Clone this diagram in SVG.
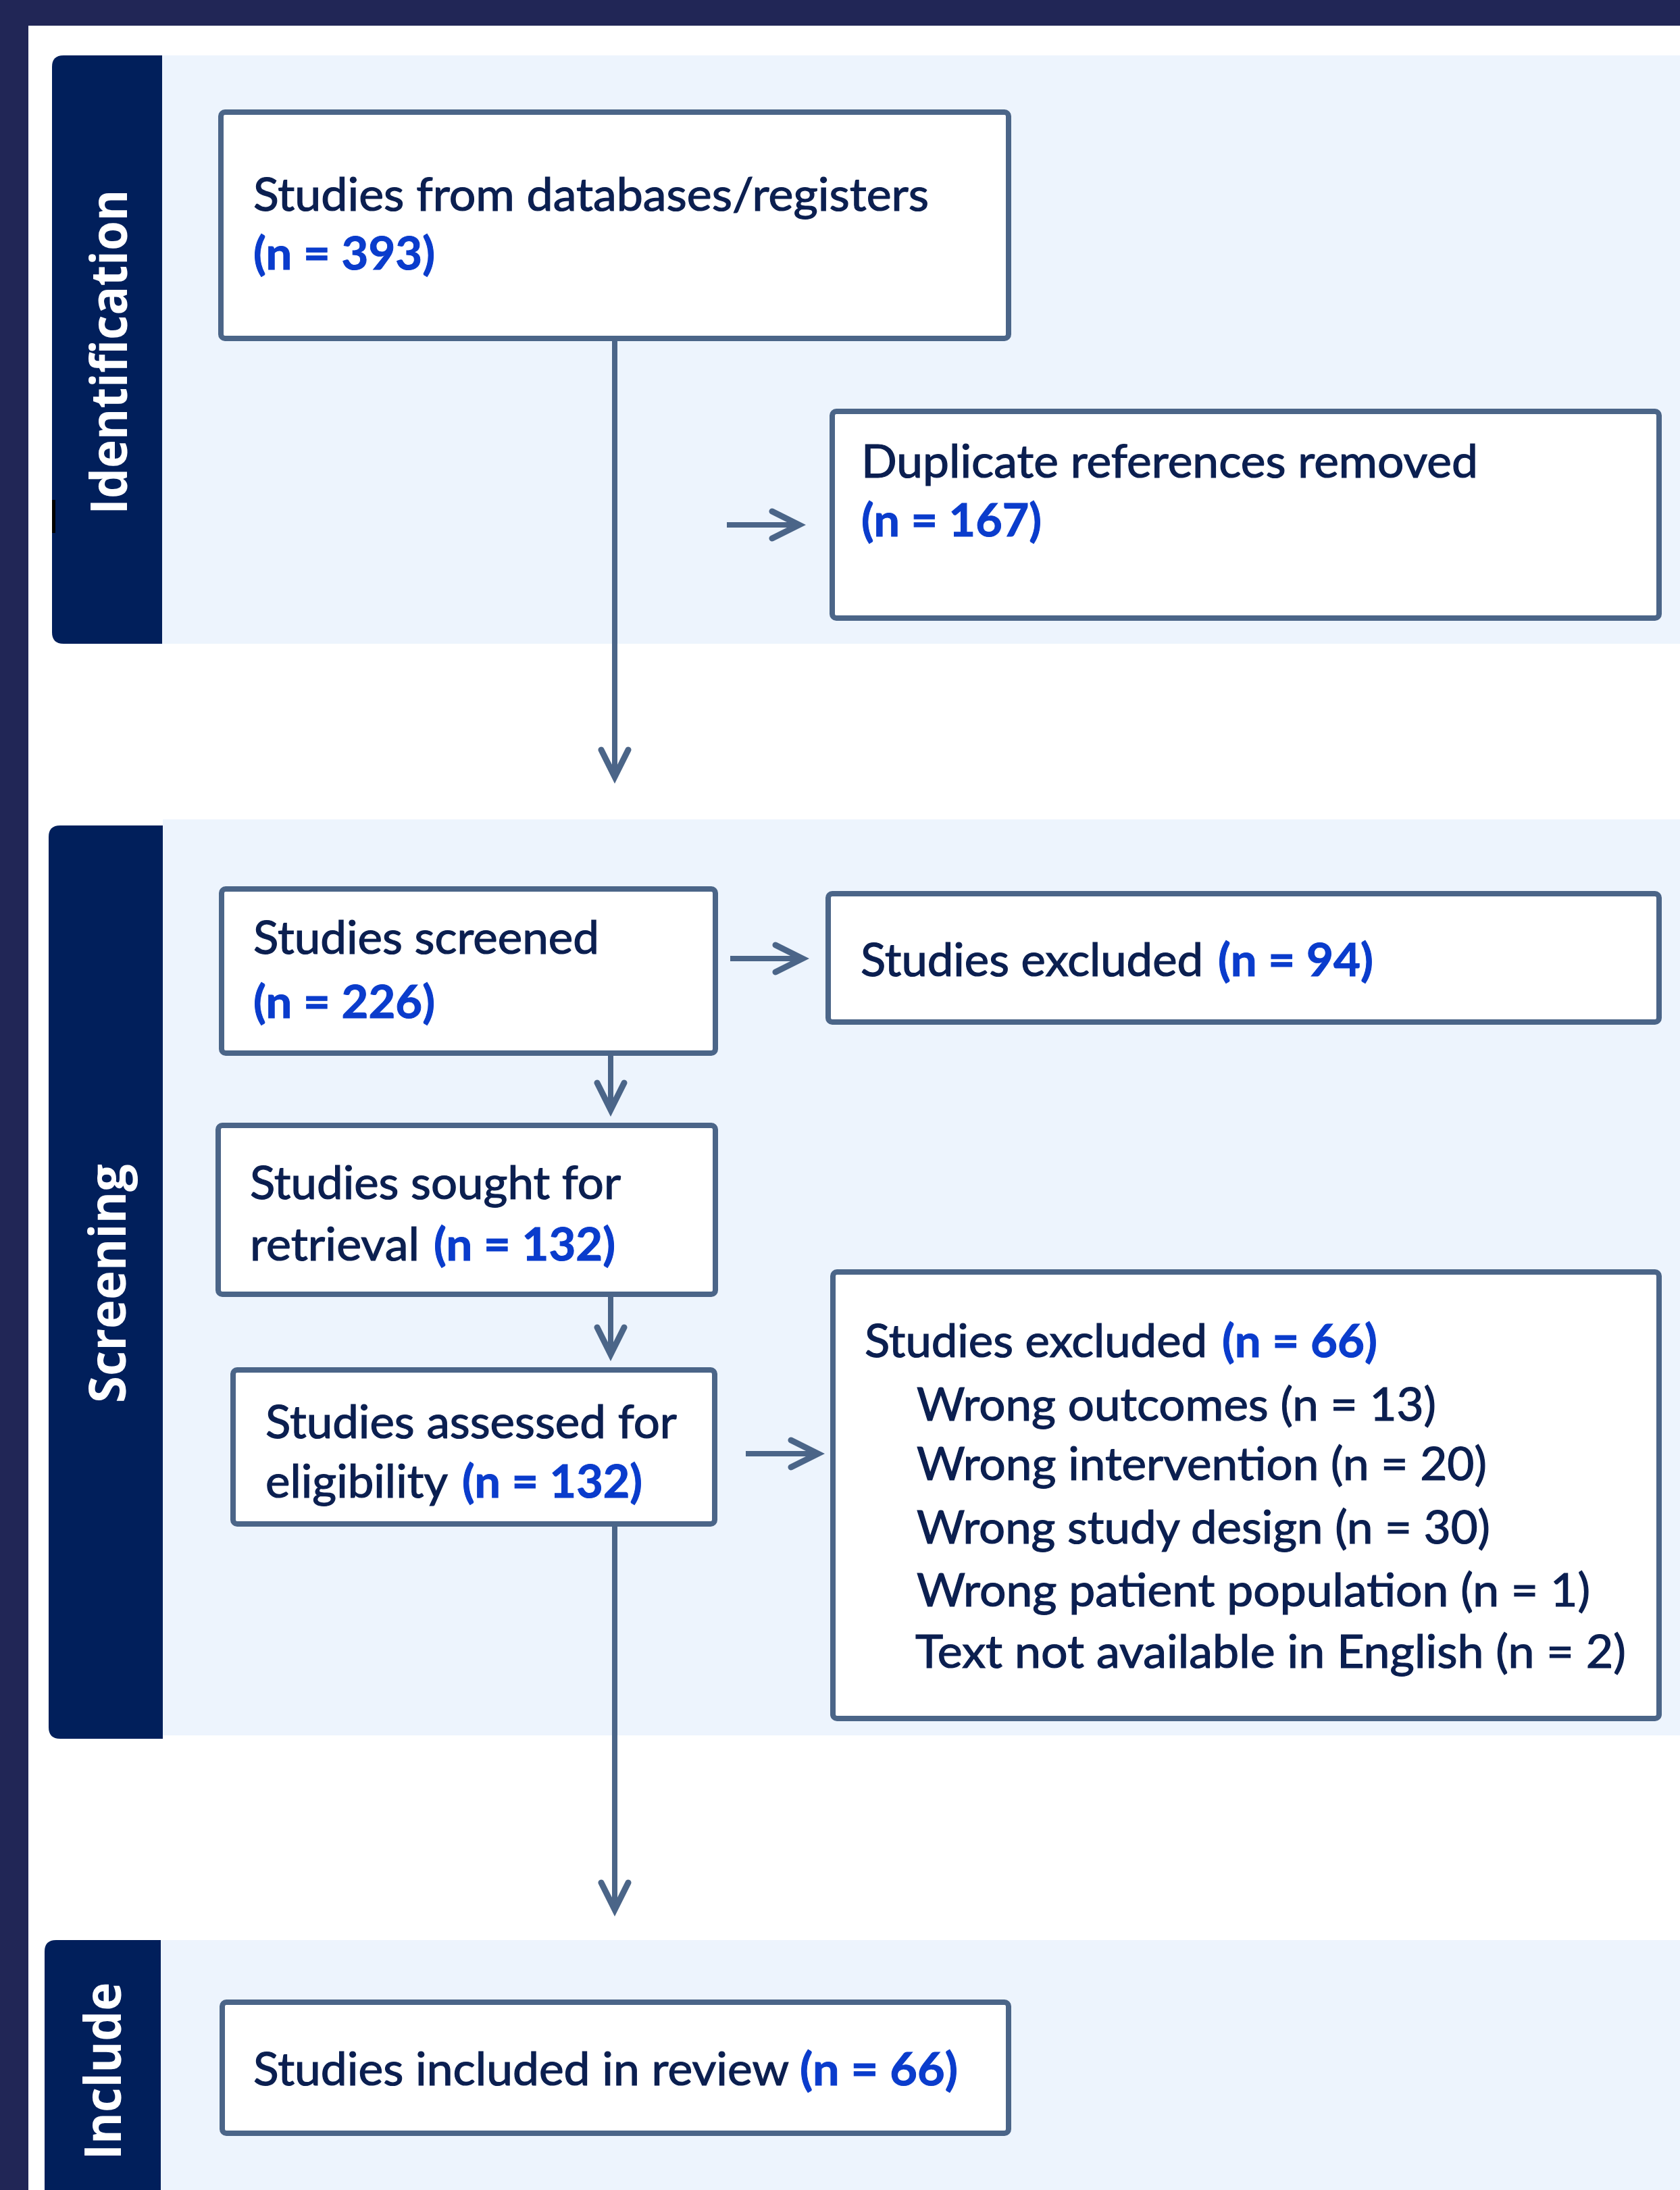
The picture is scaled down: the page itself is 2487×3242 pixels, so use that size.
<svg xmlns="http://www.w3.org/2000/svg" width="2487" height="3242" viewBox="0 0 2487 3242">
<style>
.bg{fill:#ffffff}
.band{fill:#212656}
.tab{fill:#011f5b}
.panel{fill:#edf4fd}
.box{fill:#ffffff;stroke:#4b6588;stroke-width:8}
.t{font-family:Lato,"Liberation Sans",sans-serif;font-size:67px;fill:#0b1f50;stroke:#0b1f50;stroke-width:1.2}
.n{font-family:Lato,"Liberation Sans",sans-serif;font-size:67px;font-weight:700;fill:#0a3ccc;stroke:#0a3ccc;stroke-width:1}
.lab{font-family:"Open Sans","DejaVu Sans",sans-serif;font-size:76px;font-weight:700;fill:#ffffff;text-anchor:middle}
.conn{fill:none;stroke:#4b6588;stroke-width:8}
</style>
<defs>
<marker id="ah" markerUnits="userSpaceOnUse" viewBox="-50 -30 60 60" refX="0" refY="0" markerWidth="60" markerHeight="60" orient="auto">
<path d="M-40,-20 L0,0 L-40,20" fill="none" stroke="#4b6588" stroke-width="9" stroke-linecap="round" stroke-linejoin="miter"/>
</marker>
</defs>
<rect class="bg" x="0" y="0" width="2487" height="3242"/>
<rect class="band" x="0" y="0" width="2487" height="38"/>
<rect class="band" x="0" y="0" width="42" height="3242"/>

<g id="stage-identification">
<rect class="panel" x="240" y="82" width="2247" height="871"/>
<path class="tab" d="M240,82 H94 Q77,82 77,99 V936 Q77,953 94,953 H240 Z"/>
<rect x="77" y="740" width="5" height="49" fill="#000000"/>
<text class="lab" transform="translate(188,521) rotate(-90)" textLength="481" lengthAdjust="spacingAndGlyphs">Identification</text>
</g>
<g id="stage-screening">
<rect class="panel" x="241" y="1213" width="2246" height="1356"/>
<path class="tab" d="M241,1222 H89 Q72,1222 72,1239 V2557 Q72,2574 89,2574 H241 Z"/>
<text class="lab" transform="translate(186,1900) rotate(-90)" textLength="354" lengthAdjust="spacingAndGlyphs">Screening</text>
</g>
<g id="stage-include">
<rect class="panel" x="238" y="2872" width="2249" height="370"/>
<path class="tab" d="M238,2872 H83 Q66,2872 66,2889 V3242 H238 Z"/>
<text class="lab" transform="translate(179,3066) rotate(-90)" textLength="263" lengthAdjust="spacingAndGlyphs">Include</text>
</g>

<g id="connectors">
<path class="conn" d="M910,501 V1150" marker-end="url(#ah)"/>
<path class="conn" d="M1076,777 H1183" marker-end="url(#ah)"/>
<path class="conn" d="M1081,1419 H1188" marker-end="url(#ah)"/>
<path class="conn" d="M904,1559 V1643" marker-end="url(#ah)"/>
<path class="conn" d="M904,1916 V2005" marker-end="url(#ah)"/>
<path class="conn" d="M1104,2152 H1211" marker-end="url(#ah)"/>
<path class="conn" d="M910,2256 V2827" marker-end="url(#ah)"/>
</g>

<g id="node-databases">
<rect class="box" x="327" y="166" width="1166" height="335" rx="6"/>
<text class="t" x="375" y="312" textLength="1000" lengthAdjust="spacingAndGlyphs">Studies from databases/registers</text>
<text class="n" x="375" y="399" textLength="269" lengthAdjust="spacingAndGlyphs">(n = 393)</text>
</g>
<g id="node-duplicates">
<rect class="box" x="1232" y="609" width="1224" height="306" rx="6"/>
<text class="t" x="1275" y="707" textLength="913" lengthAdjust="spacingAndGlyphs">Duplicate references removed</text>
<text class="n" x="1275" y="794" textLength="267" lengthAdjust="spacingAndGlyphs">(n = 167)</text>
</g>
<g id="node-screened">
<rect class="box" x="328" y="1316" width="731" height="243" rx="6"/>
<text class="t" x="375" y="1412" textLength="512" lengthAdjust="spacingAndGlyphs">Studies screened</text>
<text class="n" x="375" y="1507" textLength="269" lengthAdjust="spacingAndGlyphs">(n = 226)</text>
</g>
<g id="node-excluded-94">
<rect class="box" x="1226" y="1323" width="1230" height="190" rx="6"/>
<text class="t" x="1274" y="1445" textLength="507" lengthAdjust="spacingAndGlyphs">Studies excluded</text>
<text class="n" x="1803" y="1445" textLength="230" lengthAdjust="spacingAndGlyphs">(n = 94)</text>
</g>
<g id="node-sought">
<rect class="box" x="323" y="1666" width="736" height="250" rx="6"/>
<text class="t" x="370" y="1775" textLength="549" lengthAdjust="spacingAndGlyphs">Studies sought for</text>
<text class="t" x="370" y="1866" textLength="251" lengthAdjust="spacingAndGlyphs">retrieval</text>
<text class="n" x="642" y="1866" textLength="269" lengthAdjust="spacingAndGlyphs">(n = 132)</text>
</g>
<g id="node-assessed">
<rect class="box" x="345" y="2028" width="713" height="228" rx="6"/>
<text class="t" x="393" y="2129" textLength="609" lengthAdjust="spacingAndGlyphs">Studies assessed for</text>
<text class="t" x="393" y="2217" textLength="270" lengthAdjust="spacingAndGlyphs">eligibility</text>
<text class="n" x="684" y="2217" textLength="267" lengthAdjust="spacingAndGlyphs">(n = 132)</text>
</g>
<g id="node-excluded-66">
<rect class="box" x="1233" y="1883" width="1223" height="661" rx="6"/>
<text class="t" x="1280" y="2009" textLength="507" lengthAdjust="spacingAndGlyphs">Studies excluded</text>
<text class="n" x="1809" y="2009" textLength="230" lengthAdjust="spacingAndGlyphs">(n = 66)</text>
<text class="t" x="1357" y="2103" textLength="769" lengthAdjust="spacingAndGlyphs">Wrong outcomes (n = 13)</text>
<text class="t" x="1357" y="2191" textLength="844" lengthAdjust="spacingAndGlyphs">Wrong intervention (n = 20)</text>
<text class="t" x="1357" y="2285" textLength="849" lengthAdjust="spacingAndGlyphs">Wrong study design (n = 30)</text>
<text class="t" x="1357" y="2378" textLength="997" lengthAdjust="spacingAndGlyphs">Wrong patient population (n = 1)</text>
<text class="t" x="1355" y="2469" textLength="1052" lengthAdjust="spacingAndGlyphs">Text not available in English (n = 2)</text>
</g>
<g id="node-included">
<rect class="box" x="329" y="2964" width="1164" height="194" rx="6"/>
<text class="t" x="375" y="3087" textLength="793" lengthAdjust="spacingAndGlyphs">Studies included in review</text>
<text class="n" x="1184" y="3087" textLength="234" lengthAdjust="spacingAndGlyphs">(n = 66)</text>
</g>
</svg>
